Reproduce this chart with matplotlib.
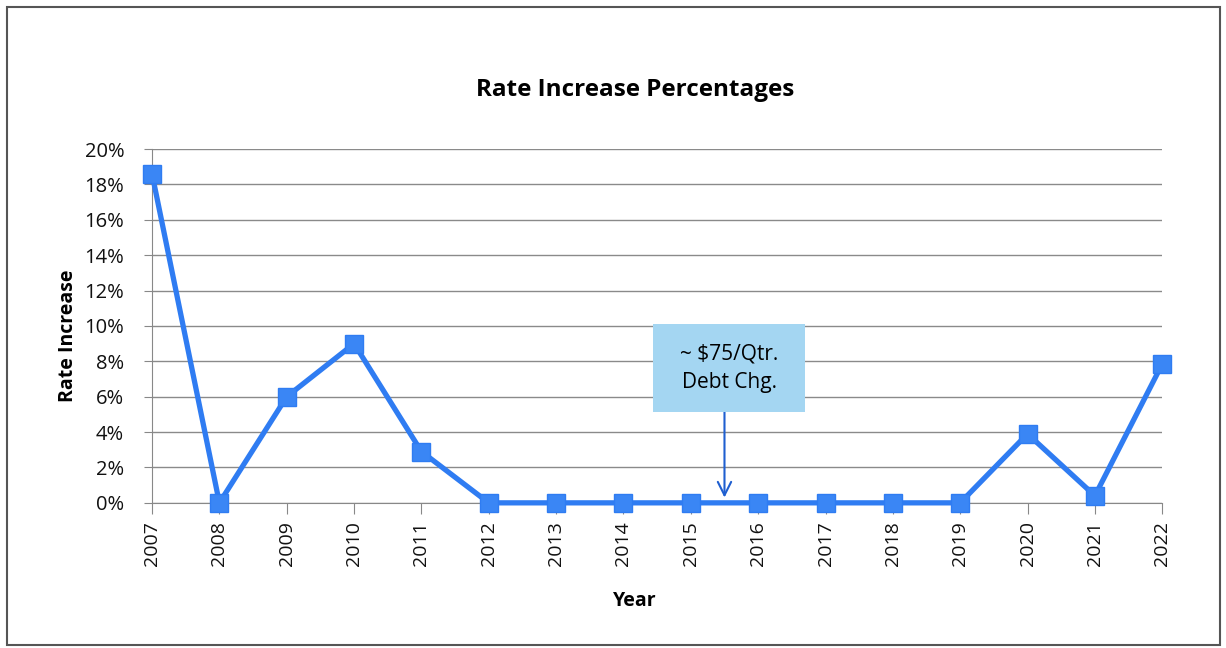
import matplotlib.pyplot as plt
from matplotlib.patches import Rectangle
from matplotlib.ticker import PercentFormatter

# Datos
years = list(range(2007, 2023))
rates = [18.6, 0.0, 6.0, 9.0, 2.9, 0.0, 0.0, 0.0, 0.0, 0.0, 0.0, 0.0, 0.0, 3.9, 0.4, 7.85]
yticks = [0, 2, 4, 6, 8, 10, 12, 14, 16, 18, 20]
note_text = '~ $75/Qtr.\nDebt Chg.'
note_year = 2015.5

plt.rcParams['font.family'] = ['Open Sans', 'DejaVu Sans']

fig = plt.figure(figsize=(12.26, 6.48), dpi=100)
ax = fig.add_axes([0.124, 0.224, 0.824, 0.546])

# Marco exterior
fig.patches.append(Rectangle((0.006, 0.005), 0.989, 0.984, transform=fig.transFigure,
                             fill=False, edgecolor='#555555', linewidth=1.5))

ax.plot(years, rates, color='#2f7cf2', linewidth=3.8, marker='s', markersize=13,
        markerfacecolor='#3a86f5', markeredgecolor='#2f7cf2', clip_on=False, zorder=3)

ax.set_xlim(2007, 2022)
ax.set_ylim(0, 20)
ax.set_xticks(years)
ax.set_xticklabels([str(y) for y in years], rotation=90, fontsize=14)
ax.set_yticks(yticks)
ax.yaxis.set_major_formatter(PercentFormatter(decimals=0))
ax.tick_params(axis='y', labelsize=14.5, length=6, color='#888888', pad=14)
ax.tick_params(axis='x', length=8, color='#888888', pad=5)
for lab in ax.get_xticklabels() + ax.get_yticklabels():
    lab.set_color('#111111')

ax.grid(True, axis='y', color='#8a8a8a', linewidth=1.0)
ax.set_axisbelow(True)
for s in ['top', 'right']:
    ax.spines[s].set_visible(False)
ax.spines['left'].set_color('#888888')
ax.spines['bottom'].set_color('#888888')

fig.text(635 / 1226, 1 - 90 / 648, 'Rate Increase Percentages', fontsize=17.5,
         fontweight='bold', ha='center', va='center')
fig.text(635 / 1226, 1 - 601 / 648, 'Year', fontsize=14, fontweight='bold',
         ha='center', va='center')
fig.text(68 / 1226, 1 - 336 / 648, 'Rate Increase', fontsize=14, fontweight='bold',
         ha='center', va='center', rotation=90)

# Nota con flecha
box_x0, box_x1 = 2014.44, 2016.70
box_y0, box_y1 = 5.14, 10.11
ax.add_patch(Rectangle((box_x0, box_y0), box_x1 - box_x0, box_y1 - box_y0,
                       facecolor='#a4d6f2', edgecolor='none', zorder=4))
ax.text((box_x0 + box_x1) / 2, (box_y0 + box_y1) / 2, note_text, ha='center', va='center',
        fontsize=15, linespacing=1.45, zorder=5)
ax.annotate('', xy=(note_year, 0.3), xytext=(note_year, box_y0),
            arrowprops=dict(arrowstyle='->', color='#1f5fd0', lw=1.5, mutation_scale=24,
                            shrinkA=0, shrinkB=0))

fig.savefig('out.png', dpi=100)
